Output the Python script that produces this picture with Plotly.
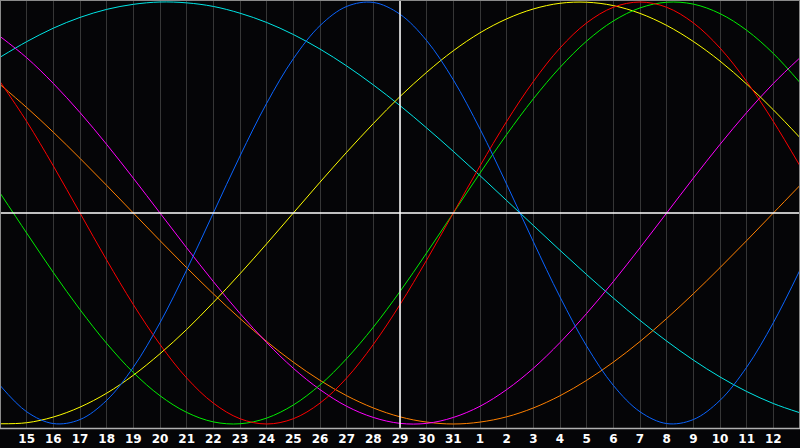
import plotly.graph_objects as go

# day index 0..30 (index 0 = the 14th, index 15 = today, the 29th)
day_index = list(range(31))
tick_index = list(range(1, 30))
tick_labels = ["15", "16", "17", "18", "19", "20", "21", "22", "23", "24", "25", "26",
               "27", "28", "29", "30", "31", "1", "2", "3", "4", "5", "6", "7", "8",
               "9", "10", "11", "12"]
today_index = 15

blue = [-0.817, -0.942, -0.998, -0.979, -0.888, -0.731, -0.52, -0.27, 0, 0.27, 0.52, 0.731,
        0.888, 0.979, 0.998, 0.942, 0.817, 0.631, 0.398, 0.136, -0.136, -0.398, -0.631,
        -0.817, -0.942, -0.998, -0.979, -0.888, -0.731, -0.52, -0.27]
red = [0.623, 0.434, 0.223, 0, -0.223, -0.434, -0.623, -0.782, -0.901, -0.975, -1, -0.975,
       -0.901, -0.782, -0.623, -0.434, -0.223, 0, 0.223, 0.434, 0.623, 0.782, 0.901, 0.975,
       1, 0.975, 0.901, 0.782, 0.623, 0.434, 0.223]
green = [0.095, -0.095, -0.282, -0.458, -0.618, -0.756, -0.866, -0.945, -0.99, -0.999,
         -0.972, -0.91, -0.815, -0.69, -0.541, -0.372, -0.189, 0, 0.189, 0.372, 0.541,
         0.69, 0.815, 0.91, 0.972, 0.999, 0.99, 0.945, 0.866, 0.756, 0.618]
magenta = [0.837, 0.736, 0.614, 0.476, 0.325, 0.165, 0, -0.165, -0.325, -0.476, -0.614,
           -0.736, -0.837, -0.916, -0.969, -0.997, -0.997, -0.969, -0.916, -0.837, -0.736,
           -0.614, -0.476, -0.325, -0.165, 0, 0.165, 0.325, 0.476, 0.614, 0.736]
yellow = [-0.999, -0.994, -0.967, -0.92, -0.854, -0.769, -0.667, -0.552, -0.424, -0.288,
          -0.146, 0, 0.146, 0.288, 0.424, 0.552, 0.667, 0.769, 0.854, 0.92, 0.967, 0.994,
          0.999, 0.983, 0.946, 0.889, 0.813, 0.72, 0.611, 0.489, 0.357]
orange = [0.609, 0.5, 0.383, 0.259, 0.131, 0, -0.131, -0.259, -0.383, -0.5, -0.609, -0.707,
          -0.793, -0.866, -0.924, -0.966, -0.991, -1, -0.991, -0.966, -0.924, -0.866, -0.793,
          -0.707, -0.609, -0.5, -0.383, -0.259, -0.131, 0, 0.131]
cyan = [0.738, 0.812, 0.876, 0.927, 0.965, 0.989, 1, 0.996, 0.979, 0.947, 0.903, 0.846,
        0.777, 0.697, 0.607, 0.509, 0.403, 0.292, 0.177, 0.059, -0.059, -0.177, -0.292,
        -0.403, -0.509, -0.607, -0.697, -0.777, -0.846, -0.903, -0.947]

series = [
    ("cyan", cyan, "#00e6e6"),
    ("orange", orange, "#ff8000"),
    ("magenta", magenta, "#ff00ff"),
    ("yellow", yellow, "#ffff00"),
    ("green", green, "#00ee00"),
    ("red", red, "#ff0000"),
    ("blue", blue, "#0a64ff"),
]

fig = go.Figure()
for name, vals, col in series:
    fig.add_trace(go.Scatter(x=day_index, y=vals, mode="lines", name=name,
                             line=dict(color=col, width=1, shape="spline", smoothing=1.0),
                             hoverinfo="skip"))

W, H, B = 800, 448, 20
PH = H - B
fig.update_layout(
    width=W, height=H,
    margin=dict(l=0, r=0, t=0, b=B, pad=0),
    paper_bgcolor="#050507",
    plot_bgcolor="#050507",
    showlegend=False,
    xaxis=dict(range=[0, 30], tickvals=tick_index, ticktext=tick_labels,
               showgrid=True, gridcolor="#363636", gridwidth=1, zeroline=False,
               ticks="", showline=False, ticklabelstandoff=2,
               tickfont=dict(family="DejaVu Sans", size=12, color="#ffffff", weight="bold"),
               fixedrange=True),
    yaxis=dict(range=[-1.019, 1.0095], showgrid=False, zeroline=False,
               showticklabels=False, ticks="", fixedrange=True),
)

# today marker and the zero line
fig.add_shape(type="line", xref="x", yref="paper", x0=today_index, x1=today_index, y0=0, y1=1,
              line=dict(color="#ffffff", width=1.5), layer="above")
fig.add_shape(type="line", xref="paper", yref="y", x0=0, x1=1, y0=0, y1=0,
              line=dict(color="#ffffff", width=1.5), layer="above")

# frame
px = 1.0 / W
py = 1.0 / PH
fig.add_shape(type="line", xref="paper", yref="paper", x0=0, x1=1, y0=1 - 0.5 * py, y1=1 - 0.5 * py,
              line=dict(color="#8a8a8a", width=1), layer="above")
fig.add_shape(type="line", xref="paper", yref="paper", x0=0.5 * px, x1=0.5 * px, y0=0, y1=1,
              line=dict(color="#8a8a8a", width=1), layer="above")
fig.add_shape(type="line", xref="paper", yref="paper", x0=1 - 0.5 * px, x1=1 - 0.5 * px, y0=0, y1=1,
              line=dict(color="#8a8a8a", width=1), layer="above")
fig.add_shape(type="line", xref="paper", yref="paper", x0=0, x1=1, y0=-0.5 * py, y1=-0.5 * py,
              line=dict(color="#b0b0b0", width=1.5), layer="above")

fig.write_html("out.html", config={"displayModeBar": False},
               post_script="document.body.style.margin='0';document.body.style.padding='0';"
                           "document.body.style.overflow='hidden';"
                           "document.body.style.background='#050507';")
